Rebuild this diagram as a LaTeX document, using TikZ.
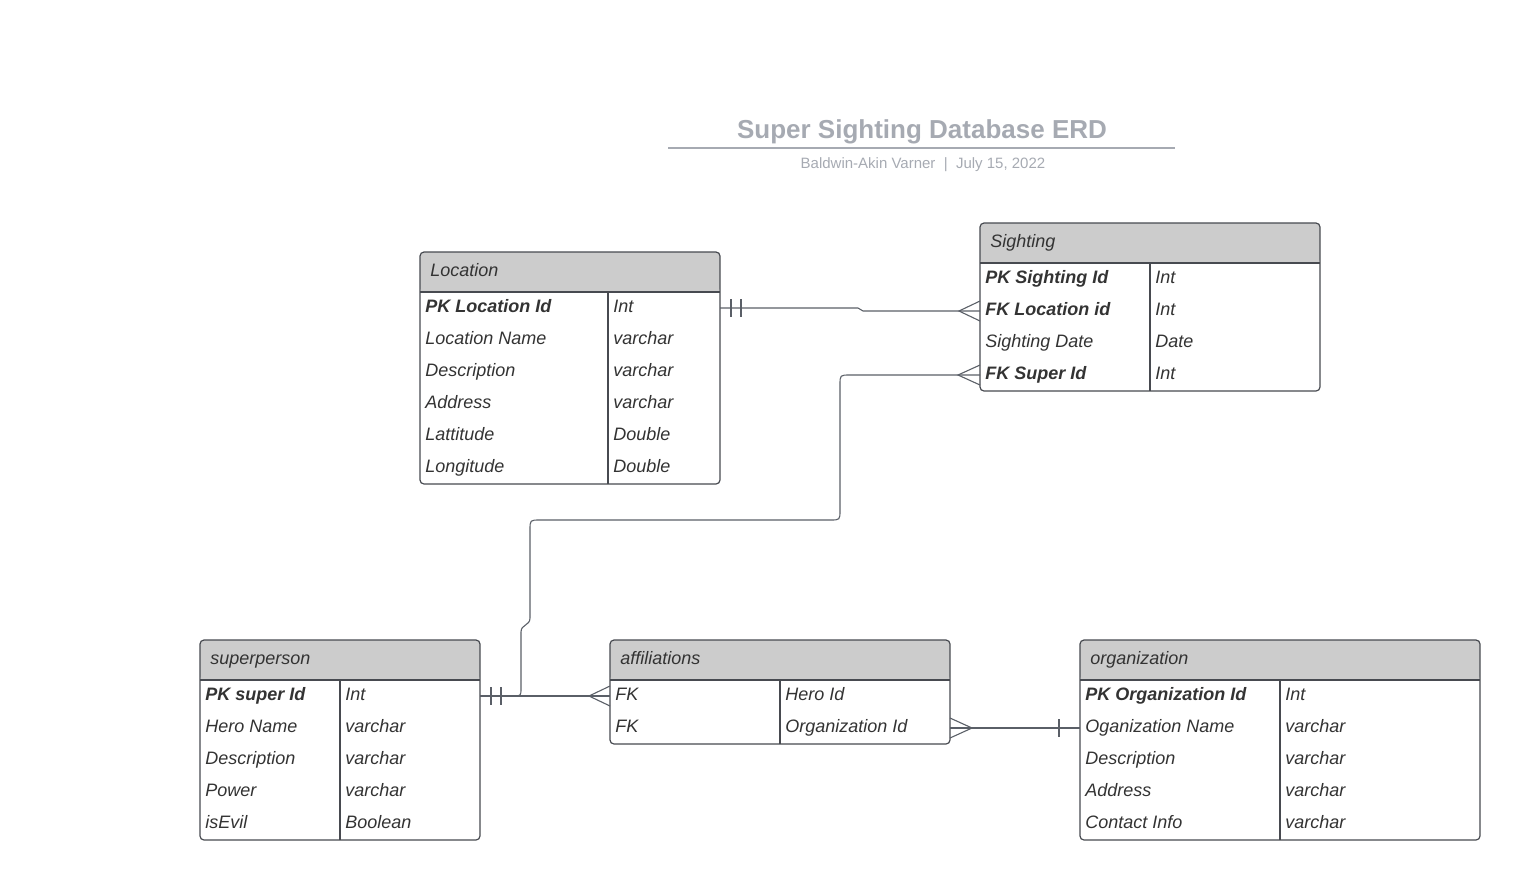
\documentclass[tikz,border=0pt]{standalone}
\usepackage{fontspec}
\setmainfont{Liberation Sans}
\usetikzlibrary{fit}
\definecolor{bordc}{HTML}{474A50}
\definecolor{hdrc}{HTML}{CCCCCC}
\definecolor{txtc}{HTML}{333333}
\definecolor{titc}{HTML}{A6AAB2}
\definecolor{connc}{HTML}{5A5F67}
\tikzset{
  tblbox/.style={draw=bordc, fill=white, rounded corners=2pt, inner sep=0pt, line width=0.6pt,
    path picture={\fill[hdrc] (path picture bounding box.north west) rectangle ([yshift=-20pt]path picture bounding box.north east);}},
  tblline/.style={draw=bordc, line width=0.6pt},
  hdrtext/.style={anchor=base west, inner sep=0pt, text=txtc, font=\fontsize{9}{11}\selectfont\itshape},
  rowtext/.style={anchor=base west, inner sep=0pt, text=txtc, font=\fontsize{9}{11}\selectfont\itshape},
  conn/.style={draw=connc, line width=0.55pt},
  titletext/.style={anchor=base, inner sep=0pt, text=titc, font=\fontsize{13}{15}\selectfont\bfseries},
  subtext/.style={anchor=base, inner sep=0pt, text=titc, font=\fontsize{7.5}{9}\selectfont},
}
\newcommand\erdbox[7]{%
  \node[tblbox, fit={(#2,#3) (#4,#5)}] (#1) {};
  \draw[tblline] (#2,{#3+40}) -- (#4,{#3+40});
  \draw[tblline] (#6,{#3+40}) -- (#6,#5);
  \node[hdrtext] (#1-title) at ({#2+10},{#3+24}) {#7};
}
\newcommand\erdrows[5]{%
  \foreach \a/\b [count=\i] in {#5} {
    \node[rowtext] (#1-r\i a) at ({#2+5},{#4+20+32*(\i-1)}) {\a};
    \node[rowtext] (#1-r\i b) at ({#3+5},{#4+20+32*(\i-1)}) {\b};
  }
}
\begin{document}
\begin{tikzpicture}[x=0.5pt,y=-0.5pt]
\useasboundingbox (0,0) rectangle (1520,880);
% title
\node[titletext] (title) at (922,138) {Super Sighting Database ERD};
\draw[draw=titc, line width=1pt] (668,148) -- (1175,148);
\node[subtext] (subtitle) at (923,168) {Baldwin-Akin Varner~~|~~July 15, 2022};
% tables
\erdbox{loc}{420}{252}{720}{484}{608}{Location}
\erdrows{loc}{420}{608}{292}{\textbf{PK Location Id}/Int, Location Name/varchar, Description/varchar, Address/varchar, Lattitude/Double, Longitude/Double}
\erdbox{sig}{980}{223}{1320}{391}{1150}{Sighting}
\erdrows{sig}{980}{1150}{263}{\textbf{PK Sighting Id}/Int, \textbf{FK Location id}/Int, Sighting Date/Date, \textbf{FK Super Id}/Int}
\erdbox{sup}{200}{640}{480}{840}{340}{superperson}
\erdrows{sup}{200}{340}{680}{\textbf{PK super Id}/Int, Hero Name/varchar, Description/varchar, Power/varchar, isEvil/Boolean}
\erdbox{aff}{610}{640}{950}{744}{780}{affiliations}
\erdrows{aff}{610}{780}{680}{FK/Hero Id, FK/Organization Id}
\erdbox{org}{1080}{640}{1480}{840}{1280}{organization}
\erdrows{org}{1080}{1280}{680}{\textbf{PK Organization Id}/Int, Oganization Name/varchar, Description/varchar, Address/varchar, Contact Info/varchar}
% ports
\coordinate (loc-p1) at (720,308);
\coordinate (sig-p2) at (980,311);
\coordinate (sig-p4) at (980,375);
\coordinate (sup-p1) at (480,696);
\coordinate (aff-p1) at (610,696);
\coordinate (aff-p2) at (950,728);
\coordinate (org-p2) at (1080,728);
% connector Location -> Sighting
\draw[conn] (loc-p1) -- (858,308) .. controls (861,308) and (860,311) .. (863,311) -- (sig-p2);
\draw[conn] (731,299) -- (731,317) (741,299) -- (741,317);
\draw[conn] (sig-p2) ++(0,-10) -- (959,311) -- ++(21,10);
% connector Sighting -> superperson
\draw[conn] (sig-p4) -- (850,375) .. controls (840,375) .. (840,385) -- (840,510)
  .. controls (840,520) .. (830,520) -- (540,520) .. controls (530,520) .. (530,530)
  -- (530,618) .. controls (530,626) and (521,624) .. (521,632) -- (521,688)
  .. controls (521,696) .. (513,696) -- (sup-p1);
\draw[conn] (sig-p4) ++(0,-10) -- (958,375) -- ++(22,10);
% connector superperson -> affiliations
\draw[conn] (sup-p1) -- (aff-p1);
\draw[conn] (491,687) -- (491,705) (501,687) -- (501,705);
\draw[conn] (aff-p1) ++(0,-10) -- (589,696) -- ++(21,10);
% connector affiliations -> organization
\draw[conn] (aff-p2) -- (org-p2);
\draw[conn] (aff-p2) ++(0,-10) -- (972,728) -- ++(-22,10);
\draw[conn] (1059,719) -- (1059,737);
\end{tikzpicture}
\end{document}
